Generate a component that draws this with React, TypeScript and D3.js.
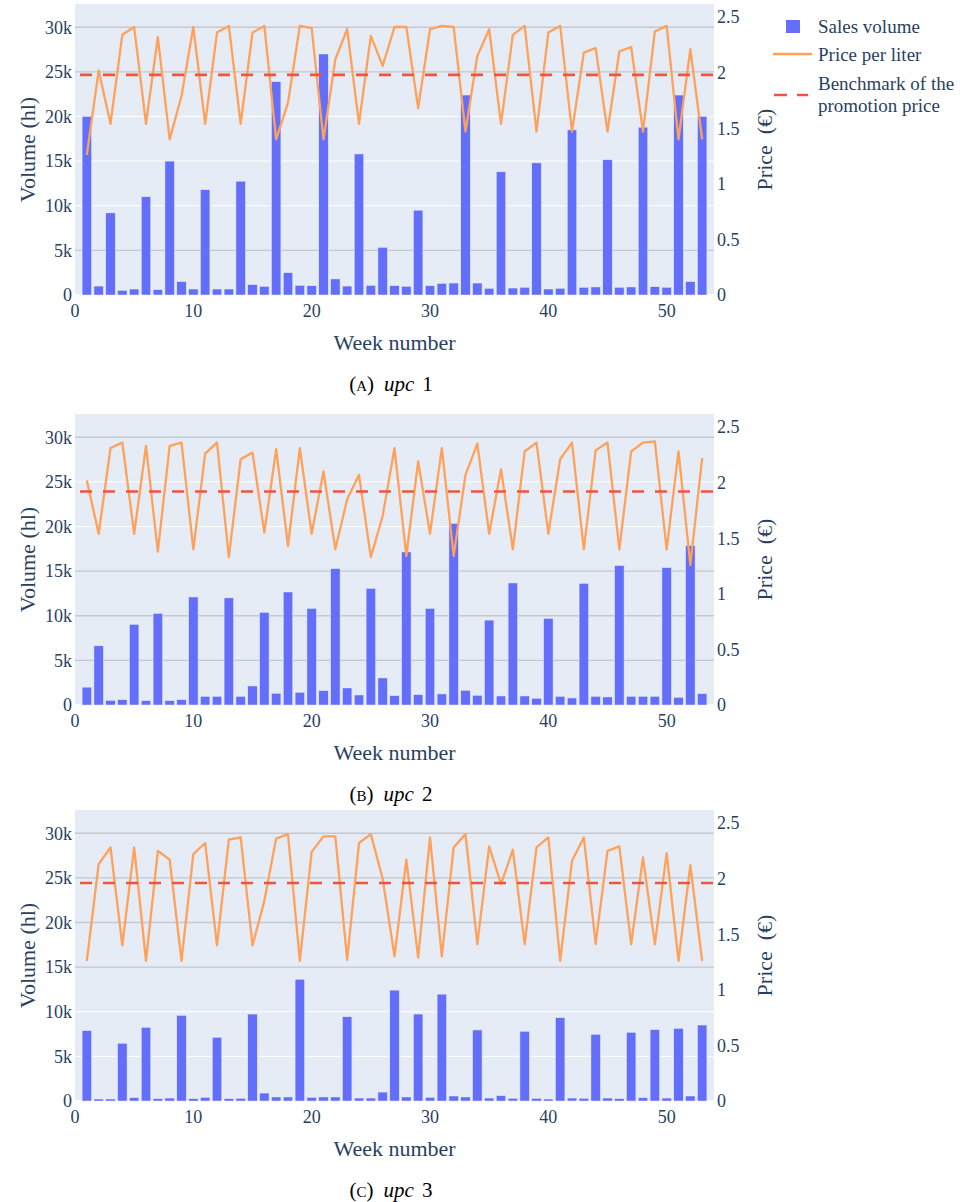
import React from 'react';
import * as d3 from 'd3';

// ---------- DATA ----------
const weeks = [
  1, 2, 3, 4, 5, 6, 7, 8, 9, 10, 11, 12, 13, 14, 15, 16, 17, 18, 19, 20,
  21, 22, 23, 24, 25, 26, 27, 28, 29, 30, 31, 32, 33, 34, 35, 36, 37, 38, 39, 40,
  41, 42, 43, 44, 45, 46, 47, 48, 49, 50, 51, 52, 53,
];

// Sales volume in thousand hl
const volumeA = [
  20.0, 1.0, 9.2, 0.52, 0.67, 11.0, 0.6, 15.0, 1.5, 0.67,
  11.8, 0.67, 0.67, 12.75, 1.16, 0.97, 23.9, 2.5, 1.08, 1.04,
  27.0, 1.8, 1.0, 15.8, 1.08, 5.34, 1.04, 0.97, 9.5, 1.04,
  1.3, 1.34, 22.4, 1.34, 0.75, 13.8, 0.78, 0.86, 14.8, 0.67,
  0.75, 18.5, 0.86, 0.9, 15.15, 0.86, 0.9, 18.8, 0.93, 0.86,
  22.4, 1.5, 20.0,
];
const priceA = [
  1.26, 2.02, 1.54, 2.34, 2.41, 1.54, 2.32, 1.40, 1.79, 2.41,
  1.54, 2.36, 2.42, 1.54, 2.36, 2.42, 1.40, 1.73, 2.42, 2.40,
  1.40, 2.12, 2.39, 1.54, 2.33, 2.06, 2.41, 2.41, 1.68, 2.39,
  2.42, 2.41, 1.47, 2.15, 2.39, 1.54, 2.34, 2.42, 1.47, 2.36,
  2.42, 1.47, 2.18, 2.22, 1.47, 2.19, 2.23, 1.47, 2.37, 2.42,
  1.40, 2.21, 1.40,
];
const benchmarkA = 1.98;

const volumeB = [
  2.0, 6.63, 0.52, 0.6, 9.03, 0.49, 10.26, 0.49, 0.6, 12.1,
  0.97, 0.97, 12.0, 0.97, 2.13, 10.37, 1.31, 12.66, 1.42, 10.82,
  1.61, 15.28, 1.91, 1.12, 13.07, 3.03, 1.05, 17.15, 1.16, 10.82,
  1.24, 20.34, 1.65, 1.09, 9.51, 1.01, 13.67, 1.01, 0.75, 9.7,
  0.97, 0.79, 13.63, 0.97, 0.9, 15.62, 0.97, 0.97, 0.97, 15.39,
  0.86, 17.87, 1.27,
];
const priceB = [
  2.02, 1.54, 2.31, 2.36, 1.54, 2.33, 1.38, 2.33, 2.36, 1.40,
  2.26, 2.36, 1.33, 2.21, 2.27, 1.55, 2.30, 1.43, 2.31, 1.54,
  2.10, 1.40, 1.85, 2.07, 1.33, 1.70, 2.31, 1.34, 2.19, 1.54,
  2.31, 1.34, 2.07, 2.35, 1.54, 2.12, 1.40, 2.28, 2.36, 1.54,
  2.21, 2.36, 1.40, 2.29, 2.36, 1.40, 2.28, 2.36, 2.37, 1.40,
  2.28, 1.26, 2.22,
];
const benchmarkB = 1.92;

const volumeC = [
  7.88, 0.22, 0.22, 6.47, 0.37, 8.25, 0.26, 0.33, 9.59, 0.26,
  0.41, 7.14, 0.26, 0.3, 9.74, 0.89, 0.45, 0.45, 13.64, 0.41,
  0.45, 0.45, 9.44, 0.33, 0.33, 1.0, 12.42, 0.45, 9.74, 0.41,
  11.97, 0.56, 0.45, 7.96, 0.33, 0.6, 0.3, 7.81, 0.3, 0.22,
  9.33, 0.33, 0.3, 7.47, 0.33, 0.26, 7.7, 0.37, 7.99, 0.33,
  8.14, 0.56, 8.51,
];
const priceC = [
  1.26, 2.13, 2.28, 1.40, 2.28, 1.26, 2.25, 2.17, 1.26, 2.22,
  2.32, 1.40, 2.35, 2.37, 1.40, 1.80, 2.36, 2.40, 1.26, 2.24,
  2.38, 2.38, 1.27, 2.32, 2.40, 2.00, 1.30, 2.17, 1.29, 2.37,
  1.30, 2.28, 2.40, 1.41, 2.29, 1.95, 2.26, 1.41, 2.28, 2.37,
  1.26, 2.16, 2.37, 1.41, 2.25, 2.29, 1.41, 2.19, 1.41, 2.23,
  1.26, 2.12, 1.26,
];
const benchmarkC = 1.96;

const volumeTicks = [0, 5, 10, 15, 20, 25, 30];
const priceTicks = [0, 0.5, 1, 1.5, 2, 2.5];
const weekTicks = [0, 10, 20, 30, 40, 50];

// gridlines that render darker in the reference
const grayGridA = [30, 25, 5];
const grayGridB = [30, 15, 10, 5];
const grayGridC = [30, 25, 20, 15];

const legendLabels = ['Sales volume', 'Price per liter', 'Benchmark of the', 'promotion price'];

// ---------- STYLE / LAYOUT ----------
const FONT = '"Liberation Serif", "Times New Roman", serif';
const TXT = '#2a3f5f';
const BAR = '#636efa';
const ORANGE = '#FFA15A';
const RED = '#EF553B';
const BG = '#E5ECF6';
const GRAY = '#c5c8cd';

const LEFT = 75;
const RIGHT = 714;
const H = 291;

const panels = [
  { top: 4, volume: volumeA, price: priceA, bench: benchmarkA, gray: grayGridA, letter: 'A', num: '1' },
  { top: 414, volume: volumeB, price: priceB, bench: benchmarkB, gray: grayGridB, letter: 'B', num: '2' },
  { top: 810, volume: volumeC, price: priceC, bench: benchmarkC, gray: grayGridC, letter: 'C', num: '3' },
];

const x = d3.scaleLinear().domain([0, 54]).range([LEFT, RIGHT]);
const barW = (x(1) - x(0)) * 0.8;

function Panel({ p }: { p: typeof panels[number] }) {
  const y = d3.scaleLinear().domain([0, 32.6]).range([p.top + H, p.top]);
  const y2 = d3.scaleLinear().domain([0, 2.617]).range([p.top + H, p.top]);
  const line = d3
    .line<number>()
    .x((_, i) => x(weeks[i]))
    .y((d) => y2(d));
  const midY = p.top + H / 2;
  return (
    <g>
      <rect x={LEFT} y={p.top} width={RIGHT - LEFT} height={H} fill={BG} />
      {volumeTicks.map((t) =>
        t === 0 ? null : (
          <line
            key={'g' + t}
            x1={LEFT}
            x2={RIGHT}
            y1={y(t)}
            y2={y(t)}
            stroke={p.gray.includes(t) ? GRAY : '#ffffff'}
            strokeWidth={p.gray.includes(t) ? 1.4 : 1}
          />
        )
      )}
      <line x1={LEFT} x2={RIGHT} y1={y(0)} y2={y(0)} stroke="#ffffff" strokeWidth={2} />
      {p.volume.map((v, i) => (
        <rect
          key={'b' + i}
          x={x(weeks[i]) - barW / 2}
          y={y(v)}
          width={barW}
          height={y(0) - y(v)}
          fill={BAR}
          stroke={BG}
          strokeWidth={0.5}
        />
      ))}
      <path d={line(p.price) || ''} fill="none" stroke={ORANGE} strokeWidth={2.3} strokeLinejoin="round" />
      <line
        x1={LEFT}
        x2={RIGHT}
        y1={y2(p.bench)}
        y2={y2(p.bench)}
        stroke={RED}
        strokeWidth={2.6}
        strokeDasharray="12,11"
        strokeDashoffset={-5}
      />
      {volumeTicks.map((t) => (
        <text
          key={'lt' + t}
          x={LEFT - 3}
          y={y(t)}
          dy="0.35em"
          textAnchor="end"
          fontSize={18}
          fontFamily={FONT}
          fill={TXT}
        >
          {t === 0 ? '0' : `${t}k`}
        </text>
      ))}
      {priceTicks.map((t) => (
        <text
          key={'rt' + t}
          x={RIGHT + 3}
          y={y2(t)}
          dy="0.35em"
          textAnchor="start"
          fontSize={18}
          fontFamily={FONT}
          fill={TXT}
        >
          {String(t)}
        </text>
      ))}
      {weekTicks.map((t) => (
        <text
          key={'xt' + t}
          x={x(t)}
          y={p.top + H + 22}
          textAnchor="middle"
          fontSize={18}
          fontFamily={FONT}
          fill={TXT}
        >
          {String(t)}
        </text>
      ))}
      <text
        x={(LEFT + RIGHT) / 2}
        y={p.top + H + 55}
        textAnchor="middle"
        fontSize={22}
        fontFamily={FONT}
        fill={TXT}
      >
        Week number
      </text>
      <text
        transform={`translate(27,${midY}) rotate(-90)`}
        dy="0.35em"
        textAnchor="middle"
        fontSize={22}
        fontFamily={FONT}
        fill={TXT}
      >
        Volume (hl)
      </text>
      <text
        transform={`translate(764,${midY}) rotate(-90)`}
        dy="0.35em"
        textAnchor="middle"
        fontSize={22}
        fontFamily={FONT}
        fill={TXT}
      >
        {'Price\u00A0 (€)'}
      </text>
      <text
        x={391}
        y={p.top + 387}
        textAnchor="middle"
        fontSize={21}
        fontFamily={FONT}
        fill="#000"
      >
        <tspan>(</tspan>
        <tspan fontSize={15}>{p.letter}</tspan>
        <tspan>)</tspan>
        <tspan dx={10} fontStyle="italic">upc</tspan>
        <tspan dx={8}>{p.num}</tspan>
      </text>
    </g>
  );
}

function Legend() {
  return (
    <g fontFamily={FONT} fontSize={19} fill={TXT}>
      <rect x={786} y={20} width={14} height={13} fill={BAR} />
      <line x1={773} x2={812} y1={54} y2={54} stroke={ORANGE} strokeWidth={2.3} />
      <line x1={774} x2={808} y1={95} y2={95} stroke={RED} strokeWidth={2.6} strokeDasharray="13,10" />
      <text x={818} y={33}>{legendLabels[0]}</text>
      <text x={818} y={61}>{legendLabels[1]}</text>
      <text x={818} y={90}>{legendLabels[2]}</text>
      <text x={818} y={112}>{legendLabels[3]}</text>
    </g>
  );
}

export default function App() {
  return (
    <div style={{ position: 'absolute', left: 0, top: 0 }}>
      <svg width={960} height={1202} style={{ display: 'block', background: '#fff' }}>
        {panels.map((p, i) => (
          <Panel key={i} p={p} />
        ))}
        <Legend />
      </svg>
    </div>
  );
}
